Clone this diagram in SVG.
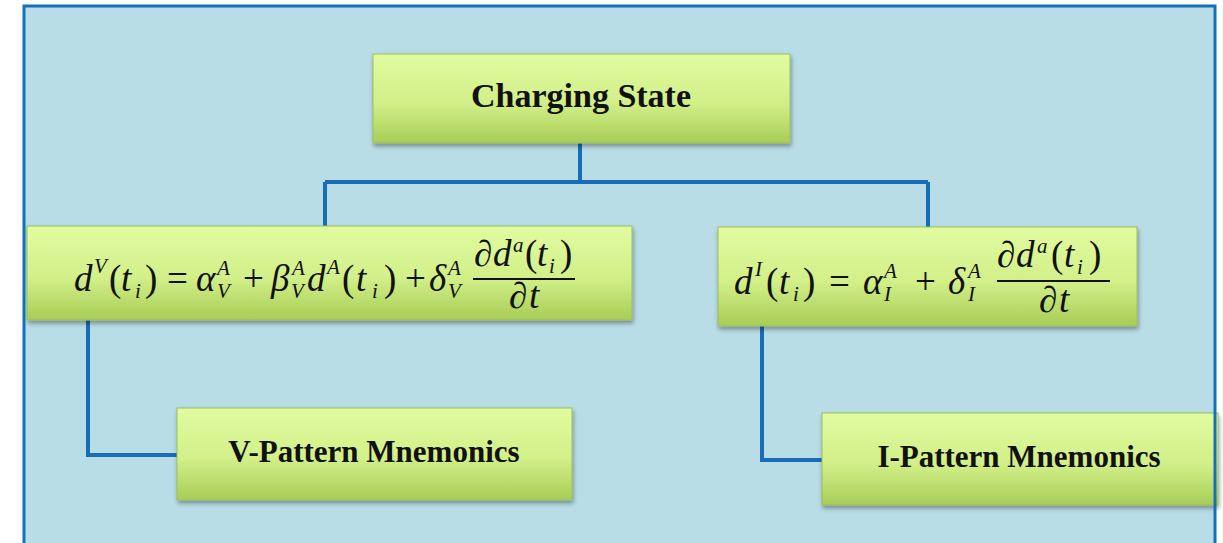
<svg xmlns="http://www.w3.org/2000/svg" width="1223" height="543" viewBox="0 0 1223 543">
<style>
.box{fill:url(#g);stroke:#9cbd5c;stroke-width:1;filter:url(#sh)}
.lbl{font-family:"Liberation Serif",serif;font-weight:bold;fill:#111;text-anchor:middle}
.m{font-family:"Liberation Serif",serif;font-style:italic;font-size:37px;fill:#111}
.u{font-style:normal}
.s{font-size:21px}
.con{fill:none;stroke:#176db6;stroke-width:4;stroke-linejoin:miter}
.bar{stroke:#111;stroke-width:1.8}
</style>
<defs>
<linearGradient id="g" x1="0" y1="0" x2="0" y2="1">
<stop offset="0" stop-color="#e1fca0"/>
<stop offset="0.55" stop-color="#d2ef89"/>
<stop offset="1" stop-color="#a8cd56"/>
</linearGradient>
<filter id="sh" x="-5%" y="-10%" width="110%" height="125%">
<feDropShadow dx="1" dy="3" stdDeviation="2" flood-color="#000" flood-opacity="0.35"/>
</filter>
</defs>
<rect x="0" y="0" width="1223" height="543" fill="#ffffff"/>
<rect id="frame-bg" x="24" y="6" width="1191" height="545" fill="#b8dde6"/>
<g id="connectors">
<path class="con" d="M580 143 V182 M325 182 H928 M325 182 V226 M928 182 V227"/>
<path class="con" d="M88 320 V455 H177"/>
<path class="con" d="M762 326 V460 H822"/>
</g>
<g id="charging-state">
<rect class="box" x="373" y="54" width="417" height="89"/>
<text class="lbl" x="581" y="107" font-size="34">Charging State</text>
</g>
<g id="v-equation">
<rect class="box" x="27" y="226" width="605" height="94"/>
<text class="m">
<tspan x="74" y="291">d</tspan><tspan class="s" x="94" y="273">V</tspan><tspan class="u" x="109" y="291">(</tspan><tspan x="121" y="291">t</tspan><tspan class="s" x="135" y="298">i</tspan><tspan class="u" x="145" y="291">)</tspan>
<tspan class="u" x="167" y="291">=</tspan>
<tspan x="196" y="291">α</tspan><tspan class="s" x="217" y="275">A</tspan><tspan class="s" x="217" y="298">V</tspan>
<tspan class="u" x="243" y="291">+</tspan>
<tspan x="271" y="291">β</tspan><tspan class="s" x="292" y="275">A</tspan><tspan class="s" x="291" y="298">V</tspan>
<tspan x="307" y="291">d</tspan><tspan class="s" x="327" y="274">A</tspan><tspan class="u" x="342" y="291">(</tspan><tspan x="356" y="291">t</tspan><tspan class="s" x="372" y="298">i</tspan><tspan class="u" x="384" y="291">)</tspan>
<tspan class="u" x="405" y="291">+</tspan>
<tspan x="429" y="291">δ</tspan><tspan class="s" x="448" y="275">A</tspan><tspan class="s" x="448" y="298">V</tspan>
<tspan class="u" x="474" y="266">∂</tspan><tspan x="493" y="266">d</tspan><tspan class="s" x="513" y="252">a</tspan><tspan class="u" x="525" y="266">(</tspan><tspan x="537" y="266">t</tspan><tspan class="s" x="549" y="273">i</tspan><tspan class="u" x="560" y="266">)</tspan>
<tspan class="u" x="509" y="308">∂</tspan><tspan x="529" y="308">t</tspan>
</text>
<line class="bar" x1="473" y1="279" x2="575" y2="279"/>
</g>
<g id="i-equation">
<rect class="box" x="718" y="227" width="419" height="99"/>
<text class="m">
<tspan x="734" y="294">d</tspan><tspan class="s" x="755" y="276">I</tspan><tspan class="u" x="766" y="294">(</tspan><tspan x="779" y="294">t</tspan><tspan class="s" x="793" y="301">i</tspan><tspan class="u" x="803" y="294">)</tspan>
<tspan class="u" x="829" y="294">=</tspan>
<tspan x="863" y="294">α</tspan><tspan class="s" x="884" y="278">A</tspan><tspan class="s" x="884" y="301">I</tspan>
<tspan class="u" x="915" y="294">+</tspan>
<tspan x="948" y="294">δ</tspan><tspan class="s" x="968" y="278">A</tspan><tspan class="s" x="968" y="301">I</tspan>
<tspan class="u" x="997" y="267">∂</tspan><tspan x="1016" y="267">d</tspan><tspan class="s" x="1037" y="253">a</tspan><tspan class="u" x="1051" y="267">(</tspan><tspan x="1064" y="267">t</tspan><tspan class="s" x="1077" y="274">i</tspan><tspan class="u" x="1089" y="267">)</tspan>
<tspan class="u" x="1039" y="312">∂</tspan><tspan x="1059" y="312">t</tspan>
</text>
<line class="bar" x1="997" y1="281" x2="1110" y2="281"/>
</g>
<g id="v-pattern">
<rect class="box" x="177" y="408" width="395" height="92"/>
<text class="lbl" x="374" y="462" font-size="31">V-Pattern Mnemonics</text>
</g>
<g id="i-pattern">
<rect class="box" x="822" y="413" width="396" height="92"/>
<text class="lbl" x="1019" y="467" font-size="31">I-Pattern Mnemonics</text>
</g>
<rect id="frame" x="24" y="6" width="1191" height="545" fill="none" stroke="#1570bb" stroke-width="3"/>
</svg>
